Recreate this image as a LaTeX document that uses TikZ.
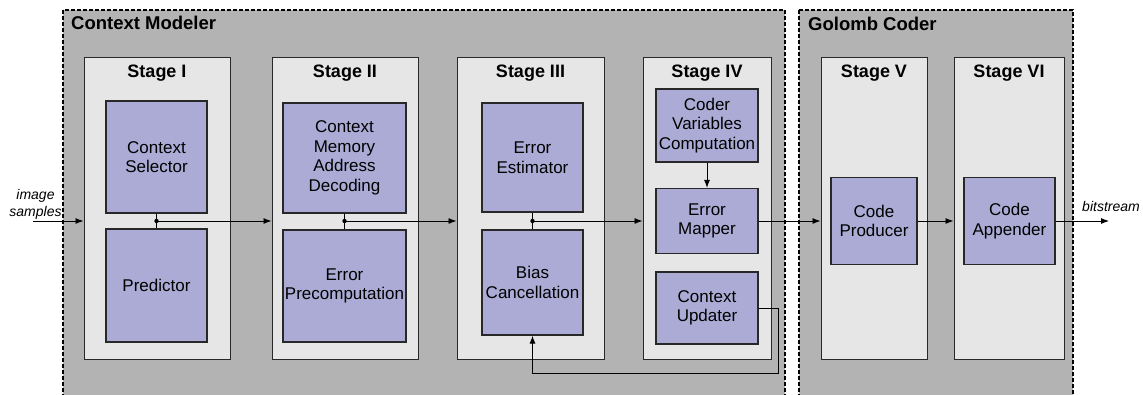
\documentclass[tikz,border=0pt]{standalone}
\usepackage{fontspec}
\setmainfont{Liberation Sans}
\usetikzlibrary{arrows.meta}
\definecolor{outerg}{RGB}{179,179,179}
\definecolor{stageg}{RGB}{230,230,230}
\definecolor{blk}{RGB}{171,171,214}
\definecolor{bord}{RGB}{40,40,40}
\tikzset{
  group/.style={draw=black,fill=outerg,line width=1.8pt,dash pattern=on 4pt off 2pt},
  grouptitle/.style={anchor=base west,inner sep=0pt,font=\fontsize{18.5}{20}\selectfont\bfseries},
  stagebox/.style={draw=bord,fill=stageg,line width=1pt,inner sep=0pt},
  stagetitle/.style={anchor=base,inner sep=0pt,font=\fontsize{18}{20}\selectfont\bfseries},
  block/.style={draw=bord,fill=blk,line width=1.2pt,inner sep=0pt,align=center,
    font=\fontsize{17}{19.5}\selectfont},
  arr/.style={draw=black,line width=0.9pt,-{Latex[length=8pt,width=6pt]}},
  wire/.style={draw=black,line width=0.9pt},
  lbl/.style={inner sep=0pt,align=center,font=\fontsize{14}{17}\selectfont\itshape},
}
\begin{document}
\begin{tikzpicture}[x=1pt,y=-1pt]
\path[use as bounding box] (0,0) rectangle (1143,394);
\clip (0,0) rectangle (1143,394);
\fill[white] (0,0) rectangle (1143,394);
% groups
\draw[group] (63,10) rectangle (785,410);
\draw[group] (799,10) rectangle (1073,410);
\node[grouptitle] (cmt) at (71,29) {Context Modeler};
\node[grouptitle] (gct) at (808,30) {Golomb Coder};
% stages
\node[stagebox,minimum width=146pt,minimum height=302pt] (s1) at (157,208) {};
\node[stagebox,minimum width=146pt,minimum height=302pt] (s2) at (345,208) {};
\node[stagebox,minimum width=147pt,minimum height=302pt] (s3) at (530.5,208) {};
\node[stagebox,minimum width=128pt,minimum height=302pt] (s4) at (707,208) {};
\node[stagebox,minimum width=106pt,minimum height=302pt] (s5) at (874,208) {};
\node[stagebox,minimum width=110pt,minimum height=302pt] (s6) at (1009,208) {};
\node[stagetitle] (t1) at (157,77) {Stage I};
\node[stagetitle] (t2) at (345,77) {Stage II};
\node[stagetitle] (t3) at (530.5,77) {Stage III};
\node[stagetitle] (t4) at (707,77) {Stage IV};
\node[stagetitle] (t5) at (874,77) {Stage V};
\node[stagetitle] (t6) at (1009,77) {Stage VI};
% blocks
\node[block,minimum width=101pt,minimum height=112pt] (cs) at (156.5,157) {Context\\Selector};
\node[block,minimum width=101pt,minimum height=113pt] (pr) at (156.5,285.5) {Predictor};
\node[block,minimum width=123pt,minimum height=110pt] (cm) at (344.5,158) {Context\\Memory\\Address\\Decoding};
\node[block,minimum width=123pt,minimum height=112pt] (ep) at (344.5,286) {Error\\Precomputation};
\node[block,minimum width=101pt,minimum height=109pt] (ee) at (532.5,157.5) {Error\\Estimator};
\node[block,minimum width=101pt,minimum height=105pt] (bc) at (532.5,282.5) {Bias\\Cancellation};
\node[block,minimum width=102pt,minimum height=73pt] (cv) at (707,125.5) {Coder\\Variables\\Computation};
\node[block,minimum width=102pt,minimum height=65pt] (em) at (707,221) {Error\\Mapper};
\node[block,minimum width=102pt,minimum height=72pt] (cu) at (707,308) {Context\\Updater};
\node[block,minimum width=86pt,minimum height=87pt] (cp) at (874,221) {Code\\Producer};
\node[block,minimum width=91pt,minimum height=87pt] (ca) at (1009.5,221) {Code\\Appender};
% labels
\node[lbl] (inl) at (35.5,204) {image\\samples};
\node[lbl,anchor=base] (outl) at (1111,211) {bitstream};
% junctions
\coordinate (in) at (33,221);
\coordinate (j1) at (156.5,221);
\coordinate (j2) at (344.5,221);
\coordinate (j3) at (532.5,221);
\coordinate (out) at (1109,221);
\coordinate (fb) at (778,373);
% connectors
\draw[arr] (in) -- (in -| s1.west);
\draw[wire] (cs.south) -- (pr.north);
\fill (j1) circle (2.2pt);
\draw[arr] (j1) -- (j1 -| s2.west);
\draw[wire] (cm.south) -- (ep.north);
\fill (j2) circle (2.2pt);
\draw[arr] (j2) -- (j2 -| s3.west);
\draw[wire] (ee.south) -- (bc.north);
\fill (j3) circle (2.2pt);
\draw[arr] (j3) -- (j3 -| s4.west);
\draw[arr] (cv.south) -- (em.north);
\draw[arr] (em.east) -- (em.east -| s5.west);
\draw[arr] (cp.east) -- (cp.east -| s6.west);
\draw[arr] (ca.east) -- (out);
\draw[arr] (cu.east) -| (fb) -| (bc.south);
\end{tikzpicture}
\end{document}
